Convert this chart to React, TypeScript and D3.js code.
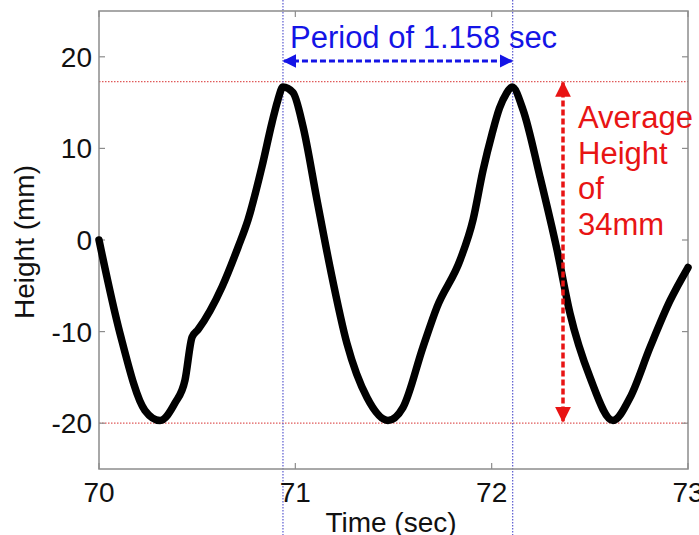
import { useEffect, useRef } from "react";
import * as d3 from "d3";

// trace of the recorded signal
const timeSec = [
  70.0, 70.107, 70.234, 70.311, 70.387, 70.438, 70.474, 70.504, 70.627, 70.708,
  70.759, 70.83, 70.881, 70.91, 70.937, 70.988, 71.039, 71.11, 71.177, 71.263,
  71.365, 71.472, 71.548, 71.65, 71.722, 71.839, 71.905, 71.956, 72.002, 72.04,
  72.075, 72.104, 72.16, 72.246, 72.333, 72.399, 72.501, 72.618, 72.705, 72.807,
  72.909, 73.0,
];
const heightMm = [
  0, -10.2, -18.6, -19.7, -17.8, -15.3, -10.6, -9.8, -5.1, -0.8,
  2.2, 8.0, 12.8, 15.2, 16.7, 16.1, 12.4, 4.4, -3.0, -11.3,
  -17.2, -19.7, -18.3, -11.7, -7.3, -2.2, 2.2, 7.6, 11.6, 14.4,
  16.0, 16.7, 14.2, 6.9, -1.1, -8.0, -15.0, -19.7, -17.2, -11.7,
  -6.6, -3.0,
];

const xTicks = [70, 71, 72, 73];
const yTicks = [-20, -10, 0, 10, 20];

// annotation values
const peakLevel = 17.3;
const troughLevel = -20;
const periodStart = 70.937;
const periodEnd = 72.107;
const periodText = "Period of 1.158 sec";
const avgLines = ["Average", "Height", "of", "34mm"];

const W = 699;
const H = 535;
const FONT = "'Liberation Sans', Arial, sans-serif";

export default function App() {
  const ref = useRef<SVGSVGElement>(null);

  useEffect(() => {
    const svg = d3.select(ref.current);
    svg.selectAll("*").remove();

    const left = 99, right = 688, top = 11, bottom = 469;
    const x = d3.scaleLinear().domain([70, 73]).range([left, right]);
    const y = d3.scaleLinear().domain([-25, 25]).range([bottom, top]);

    const blue = "#1414e6";
    const red = "#e81414";

    const defs = svg.append("defs");
    const mk = (id: string, color: string) =>
      defs.append("marker")
        .attr("id", id)
        .attr("viewBox", "0 0 10 10")
        .attr("refX", 9).attr("refY", 5)
        .attr("markerWidth", 4.5).attr("markerHeight", 4.5)
        .attr("markerUnits", "strokeWidth")
        .attr("orient", "auto-start-reverse")
        .append("path").attr("d", "M0,0 L10,5 L0,10 z").attr("fill", color);
    mk("arrBlue", blue);
    mk("arrRed", red);

    svg.append("rect").attr("width", W).attr("height", H).attr("fill", "#fff");

    // dotted reference lines
    const g = svg.append("g");
    [peakLevel, troughLevel].forEach(v =>
      g.append("line")
        .attr("x1", left).attr("x2", right)
        .attr("y1", y(v)).attr("y2", y(v))
        .attr("stroke", "#e05a5a").attr("stroke-width", 1.2)
        .attr("stroke-dasharray", "1.5,1.5"));
    [periodStart, periodEnd].forEach(t =>
      g.append("line")
        .attr("x1", x(t)).attr("x2", x(t))
        .attr("y1", 0).attr("y2", H)
        .attr("stroke", "#5a5ad0").attr("stroke-width", 1.2)
        .attr("stroke-dasharray", "1.5,1.5"));

    // frame + ticks
    svg.append("rect")
      .attr("x", left).attr("y", top)
      .attr("width", right - left).attr("height", bottom - top)
      .attr("fill", "none").attr("stroke", "#8c8c8c").attr("stroke-width", 1.5);

    const tk = svg.append("g").attr("stroke", "#8c8c8c").attr("stroke-width", 1.2);
    xTicks.forEach(t => {
      tk.append("line").attr("x1", x(t)).attr("x2", x(t)).attr("y1", bottom).attr("y2", bottom - 6);
      tk.append("line").attr("x1", x(t)).attr("x2", x(t)).attr("y1", top).attr("y2", top + 6);
    });
    yTicks.forEach(v => {
      tk.append("line").attr("x1", left).attr("x2", left + 6).attr("y1", y(v)).attr("y2", y(v));
      tk.append("line").attr("x1", right).attr("x2", right - 6).attr("y1", y(v)).attr("y2", y(v));
    });

    // signal
    const line = d3.line<number>()
      .x((_, i) => x(timeSec[i]))
      .y(d => y(d))
      .curve(d3.curveMonotoneX);
    svg.append("path")
      .attr("d", line(heightMm))
      .attr("fill", "none")
      .attr("stroke", "#000")
      .attr("stroke-width", 7.5)
      .attr("stroke-linejoin", "round")
      .attr("stroke-linecap", "round");

    // tick labels
    const lab = svg.append("g").attr("font-family", FONT).attr("font-size", 28).attr("fill", "#111");
    xTicks.forEach(t =>
      lab.append("text").attr("x", x(t)).attr("y", 502).attr("text-anchor", "middle").text(t));
    yTicks.forEach(v =>
      lab.append("text").attr("x", 92).attr("y", y(v) + 10).attr("text-anchor", "end").text(v));

    lab.append("text").attr("x", 391).attr("y", 532).attr("text-anchor", "middle").text("Time (sec)");
    lab.append("text")
      .attr("transform", `translate(34,${(top + bottom) / 2 + 2}) rotate(-90)`)
      .attr("text-anchor", "middle").text("Height (mm)");

    // period annotation
    svg.append("line")
      .attr("x1", x(periodStart) + 1).attr("x2", x(periodEnd) - 1)
      .attr("y1", 61).attr("y2", 61)
      .attr("stroke", blue).attr("stroke-width", 3)
      .attr("stroke-dasharray", "6,3")
      .attr("marker-start", "url(#arrBlue)")
      .attr("marker-end", "url(#arrBlue)");
    svg.append("text")
      .attr("x", 290).attr("y", 48)
      .attr("font-family", FONT).attr("font-size", 31)
      .attr("fill", blue).text(periodText);

    // height annotation
    svg.append("line")
      .attr("x1", 563).attr("x2", 563)
      .attr("y1", y(peakLevel) + 1).attr("y2", y(troughLevel) - 2)
      .attr("stroke", red).attr("stroke-width", 3.5)
      .attr("stroke-dasharray", "6,3")
      .attr("marker-start", "url(#arrRed)")
      .attr("marker-end", "url(#arrRed)");
    const at = svg.append("g").attr("font-family", FONT).attr("font-size", 31).attr("fill", red);
    avgLines.forEach((s, i) =>
      at.append("text").attr("x", 578).attr("y", 128 + i * 35.7).text(s));
  }, []);

  return (
    <svg
      ref={ref}
      width={W}
      height={H}
      style={{ position: "fixed", left: 0, top: 0, display: "block" }}
    />
  );
}
